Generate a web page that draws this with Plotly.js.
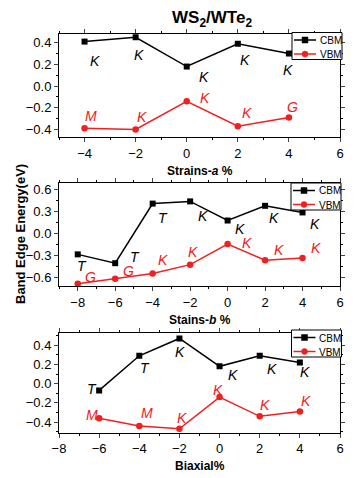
<!DOCTYPE html>
<html><head><meta charset="utf-8">
<script src="https://cdn.plot.ly/plotly-3.0.1.min.js"></script>
<style>html,body{margin:0;padding:0;background:#fff}#chart{width:357px;height:478px}</style>
</head><body><div id="chart"></div>
<script>
// Panel 1: Strains-a
const xA = [-4, -2, 0, 2, 4];
const cbmA = [0.41, 0.45, 0.18, 0.39, 0.30];
const vbmA = [-0.39, -0.40, -0.14, -0.37, -0.29];
const cbmLabA = ['K', 'K', 'K', 'K', 'K'];
const vbmLabA = ['M', 'K', 'K', 'K', 'G'];
// Panel 2: Stains-b
const xB = [-8, -6, -4, -2, 0, 2, 4];
const cbmB = [-0.28, -0.40, 0.41, 0.44, 0.18, 0.38, 0.29];
const vbmB = [-0.68, -0.61, -0.54, -0.42, -0.14, -0.36, -0.33];
const cbmLabB = ['T', 'T', 'T', 'K', 'K', 'K', 'K'];
const vbmLabB = ['G', 'G', 'K', 'K', 'K', 'K', 'K'];
// Panel 3: Biaxial
const xC = [-6, -4, -2, 0, 2, 4];
const cbmC = [-0.07, 0.29, 0.47, 0.18, 0.29, 0.22];
const vbmC = [-0.36, -0.44, -0.47, -0.14, -0.34, -0.29];
const cbmLabC = ['T', 'T', 'K', 'K', 'K', 'K'];
const vbmLabC = ['M', 'M', 'K', 'K', 'K', 'K'];
const seriesNames = ['CBM', 'VBM'];

// label offsets (data units) relative to each point
const cbmOffA = [[0.4,-0.18],[0.13,-0.16],[0.67,-0.10],[0.3,-0.15],[-0.05,-0.15]];
const vbmOffA = [[0.25,0.11],[0.25,0.11],[0.73,0.03],[0.37,0.12],[0.15,0.10]];
const cbmOffB = [[0.21,-0.16],[1.06,0.08],[0.57,-0.20],[0.7,-0.20],[0.66,-0.12],[0.47,-0.17],[0.66,-0.16]];
const vbmOffB = [[0.66,0.09],[0.7,0.10],[0.57,0.18],[0.17,0.17],[1.05,0.01],[0.75,0.14],[0.71,0.13]];
const cbmOffC = [[-0.37,0.01],[0.28,-0.13],[0.03,-0.14],[0.68,-0.09],[0.6,-0.14],[0.26,-0.10]];
const vbmOffC = [[-0.37,0.03],[0.37,0.13],[0.11,0.11],[-0.06,0.07],[0.26,0.12],[0.31,0.11]];

const RED = '#f02020';
const FONT = 'Liberation Sans, Arial, sans-serif';
function traces(x, c, v, n) {
  const xa = n === 1 ? 'x' : 'x' + n, ya = n === 1 ? 'y' : 'y' + n;
  return [
    {x: x, y: c, name: seriesNames[0], xaxis: xa, yaxis: ya, mode: 'lines+markers',
     line: {color: '#000', width: 1.5}, marker: {symbol: 'square', size: 6, color: '#000'}},
    {x: x, y: v, name: seriesNames[1], xaxis: xa, yaxis: ya, mode: 'lines+markers',
     line: {color: RED, width: 1.5}, marker: {symbol: 'circle', size: 6.5, color: RED}}
  ];
}
const data = [].concat(traces(xA, cbmA, vbmA, 1), traces(xB, cbmB, vbmB, 2), traces(xC, cbmC, vbmC, 3));

const annotations = [];
const shapes = [];
function labs(x, y, labels, offs, color, n) {
  const xr = n === 1 ? 'x' : 'x' + n, yr = n === 1 ? 'y' : 'y' + n;
  for (let i = 0; i < x.length; i++) {
    annotations.push({x: x[i] + offs[i][0], y: y[i] + offs[i][1], xref: xr, yref: yr,
      xanchor: 'center', yanchor: 'middle',
      text: '<i>' + labels[i] + '</i>', showarrow: false,
      font: {family: FONT, size: 14, color: color}});
  }
}
labs(xA, cbmA, cbmLabA, cbmOffA, '#000', 1);
labs(xA, vbmA, vbmLabA, vbmOffA, RED, 1);
labs(xB, cbmB, cbmLabB, cbmOffB, '#000', 2);
labs(xB, vbmB, vbmLabB, vbmOffB, RED, 2);
labs(xC, cbmC, cbmLabC, cbmOffC, '#000', 3);
labs(xC, vbmC, vbmLabC, vbmOffC, RED, 3);

const W = 357, H = 478;
const px = v => v / W, py = v => 1 - v / H;
const bold = {family: FONT, size: 12, color: '#000'};
function paperText(x, y, text, font, extra) {
  annotations.push(Object.assign({xref: 'paper', yref: 'paper', x: px(x), y: py(y), text: text,
    showarrow: false, xanchor: 'center', yanchor: 'middle', font: font}, extra || {}));
}
paperText(212, 19, '<b>WS<sub>2</sub>/WTe<sub>2</sub></b>', {family: FONT, size: 17, color: '#000'});
paperText(200, 171, '<b>Strains-<i>a</i> %</b>', bold);
paperText(200, 320, '<b>Stains-<i>b</i> %</b>', bold);
paperText(200, 466, '<b>Biaxial%</b>', bold);
paperText(20, 234, '<b>Band Edge Energy(eV)</b>', {family: FONT, size: 13, color: '#000'}, {textangle: -90});

// custom compact legends
function legendBox(L, T) {
  shapes.push({type: 'rect', xref: 'paper', yref: 'paper', x0: px(L), x1: px(L + 50), y0: py(T), y1: py(T + 27),
    line: {color: '#000', width: 1}, fillcolor: '#fff'});
  const rows = [[T + 7.5, '#000', 'square'], [T + 21.5, RED, 'circle']];
  rows.forEach((r, i) => {
    shapes.push({type: 'line', xref: 'paper', yref: 'paper', x0: px(L + 2), x1: px(L + 24), y0: py(r[0]), y1: py(r[0]),
      line: {color: r[1], width: 1.5}});
    shapes.push({type: r[2] === 'square' ? 'rect' : 'circle', xref: 'paper', yref: 'paper',
      x0: px(L + 10), x1: px(L + 16), y0: py(r[0] - 3), y1: py(r[0] + 3),
      line: {color: r[1], width: 0.5}, fillcolor: r[1]});
    paperText(L + 25.5, r[0] + 0.5, seriesNames[i], {family: FONT, size: 10, color: '#000'}, {xanchor: 'left'});
  });
}
legendBox(292, 32.5);
legendBox(291, 183);
legendBox(291.5, 330);

const tickFont = {family: FONT, size: 13, color: '#000'};
function xax(range, dom, anchor) {
  return {range: range, domain: dom, anchor: anchor, dtick: 2, tick0: 0, ticks: 'outside', ticklen: 4,
    showline: true, linecolor: '#000', linewidth: 1, mirror: 'allticks', showgrid: false, zeroline: false,
    tickfont: tickFont, minor: {dtick: 1, ticks: 'outside', ticklen: 2, tickcolor: '#000'}};
}
function yax(range, dom, anchor, dt) {
  return {range: range, domain: dom, anchor: anchor, dtick: dt, tick0: 0, tickformat: '.1f', ticks: 'outside', ticklen: 4,
    showline: true, linecolor: '#000', linewidth: 1, mirror: 'allticks', showgrid: false, zeroline: false,
    tickfont: tickFont, minor: {dtick: dt / 2, ticks: 'outside', ticklen: 2, tickcolor: '#000'}};
}
const xd = [px(59), px(340)];
const layout = {
  width: W, height: H, margin: {l: 0, r: 0, t: 0, b: 0}, paper_bgcolor: '#fff', plot_bgcolor: '#fff',
  showlegend: false,
  xaxis: xax([-5, 6], xd, 'y'),
  yaxis: yax([-0.47, 0.48], [py(137), py(34)], 'x', 0.2),
  xaxis2: xax([-9, 6], xd, 'y2'),
  yaxis2: yax([-0.71, 0.69], [py(286), py(183)], 'x2', 0.3),
  xaxis3: xax([-8, 6], xd, 'y3'),
  yaxis3: yax([-0.51, 0.53], [py(432.7), py(332.7)], 'x3', 0.2),
  shapes: shapes,
  annotations: annotations
};
Plotly.newPlot('chart', data, layout, {displayModeBar: false, staticPlot: true});
</script></body></html>
